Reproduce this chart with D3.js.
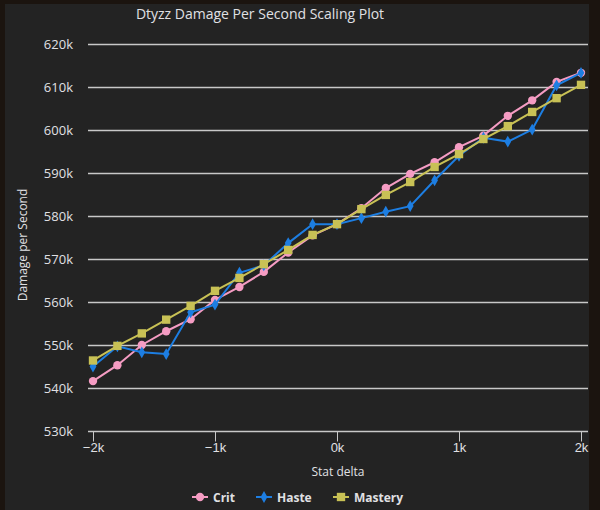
<!DOCTYPE html>
<html>
<head>
<meta charset="utf-8">
<script src="https://cdn.jsdelivr.net/npm/d3@7"></script>
<style>
  body { margin: 0; background: #1b140f; }
  svg { display: block; font-family: "Open Sans", "Noto Sans", sans-serif; }
</style>
</head>
<body>
<div id="chart"></div>
<script>
var width = 600, height = 510;

// stat delta steps, -2k .. 2k
var deltas = [-2000, -1800, -1600, -1400, -1200, -1000, -800, -600, -400, -200, 0,
              200, 400, 600, 800, 1000, 1200, 1400, 1600, 1800, 2000];

var crit = [541600, 545300, 550000, 553200, 556000, 560500, 563500, 567000, 571500, 575500, 578100,
            581800, 586500, 589800, 592500, 596000, 598700, 603300, 606900, 611200, 613300];
var haste = [545000, 549700, 548300, 547900, 557600, 559400, 566800, 568500, 573700, 578100, 578100,
             579500, 581000, 582300, 588300, 594000, 598200, 597300, 600100, 610400, 613300];
var mastery = [546400, 549800, 552700, 555900, 559100, 562600, 565600, 568800, 572100, 575600, 578100,
               581600, 584900, 587900, 591400, 594400, 597900, 600900, 604200, 607400, 610500];

var seriesNames = ["Crit", "Haste", "Mastery"];
var seriesColors = ["#f59cc3", "#1d7ee2", "#c8c155"];
var seriesData = [crit, haste, mastery];

var yTicks = [530000, 540000, 550000, 560000, 570000, 580000, 590000, 600000, 610000, 620000];
var xTicks = [-2000, -1000, 0, 1000, 2000];

var svg = d3.select("#chart").append("svg")
	.attr("width", width).attr("height", height);

// panel
svg.append("rect")
	.attr("x", 5).attr("y", 4)
	.attr("width", 584).attr("height", height - 4)
	.attr("fill", "#232323");

var x = d3.scaleLinear().domain([-2000, 2000]).range([93, 581]);
var y = d3.scaleLinear().domain([530000, 620000]).range([431, 44]);
var gridLeft = 88, gridRight = 588;

svg.append("text")
	.attr("x", 260).attr("y", 18.5)
	.attr("text-anchor", "middle")
	.attr("fill", "#e0e0e3")
	.attr("font-size", 14)
	.text("Dtyzz Damage Per Second Scaling Plot");

// grid lines + y labels
svg.selectAll(".grid").data(yTicks).enter().append("line")
	.attr("class", "grid")
	.attr("x1", gridLeft).attr("x2", gridRight)
	.attr("y1", function(d){ return Math.round(y(d)) + 0.5; })
	.attr("y2", function(d){ return Math.round(y(d)) + 0.5; })
	.attr("stroke", "#c8c8c8")
	.attr("stroke-width", 1.3);

svg.selectAll(".ylab").data(yTicks).enter().append("text")
	.attr("class", "ylab")
	.attr("x", 73)
	.attr("y", function(d){ return y(d) + 4.5; })
	.attr("text-anchor", "end")
	.attr("fill", "#e0e0e3")
	.attr("font-size", 13)
	.text(function(d){ return (d / 1000) + "k"; });

svg.append("text")
	.attr("transform", "translate(27,245) rotate(-90)")
	.attr("text-anchor", "middle")
	.attr("fill", "#e0e0e3")
	.attr("font-size", 12)
	.text("Damage per Second");

// x axis
var xAxis = d3.axisBottom(x)
	.tickValues(xTicks)
	.tickSize(10)
	.tickFormat(function(d){ return d === 0 ? "0k" : (d < 0 ? "\u2212" : "") + Math.abs(d / 1000) + "k"; });

var gx = svg.append("g")
	.attr("transform", "translate(0," + (Math.round(y(530000)) + 0.5) + ")")
	.call(xAxis);
gx.select(".domain").remove();
gx.selectAll(".tick line").attr("stroke", "#c8c8c8");
gx.selectAll(".tick text")
	.attr("fill", "#e0e0e3")
	.attr("font-size", 13)
	.attr("font-family", "inherit")
	.attr("dy", "0.55em");

svg.append("text")
	.attr("x", 338).attr("y", 476)
	.attr("text-anchor", "middle")
	.attr("fill", "#e0e0e3")
	.attr("font-size", 12)
	.text("Stat delta");

// series
var line = d3.line()
	.x(function(d, i){ return x(deltas[i]); })
	.y(function(d){ return y(d); });

var symbols = [d3.symbolCircle, d3.symbolDiamond, d3.symbolSquare];
var symSizes = [55, 40, 70];

seriesData.forEach(function(vals, s) {
	var g = svg.append("g");
	g.append("path")
		.datum(vals)
		.attr("d", line)
		.attr("fill", "none")
		.attr("stroke", seriesColors[s])
		.attr("stroke-width", 2);
	g.selectAll(".pt").data(vals).enter().append("path")
		.attr("transform", function(d, i){ return "translate(" + x(deltas[i]) + "," + y(d) + ")"; })
		.attr("d", d3.symbol().type(symbols[s]).size(symSizes[s]))
		.attr("fill", seriesColors[s]);
});

// legend
var legendX = [192, 256, 333];
var leg = svg.selectAll(".leg").data(seriesNames).enter().append("g")
	.attr("class", "leg")
	.attr("transform", function(d, i){ return "translate(" + legendX[i] + ",497)"; });
leg.append("line")
	.attr("x1", 0).attr("x2", 16)
	.attr("stroke", function(d, i){ return seriesColors[i]; })
	.attr("stroke-width", 2);
leg.append("path")
	.attr("transform", "translate(8,0)")
	.attr("d", function(d, i){ return d3.symbol().type(symbols[i]).size(symSizes[i])(); })
	.attr("fill", function(d, i){ return seriesColors[i]; });
leg.append("text")
	.attr("x", 21).attr("y", 4.5)
	.attr("fill", "#e0e0e3")
	.attr("font-size", 12)
	.attr("font-weight", "bold")
	.text(function(d){ return d; });
</script>
</body>
</html>
